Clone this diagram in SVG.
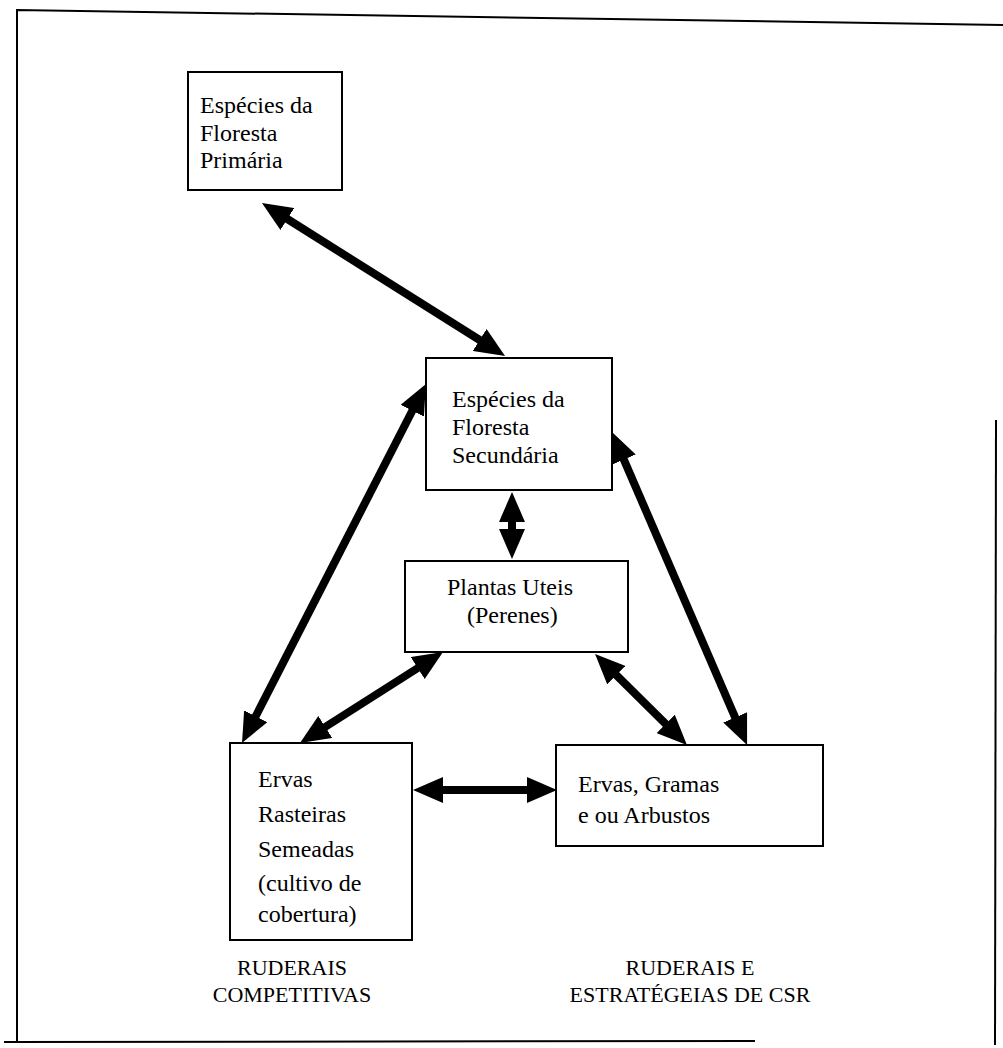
<svg xmlns="http://www.w3.org/2000/svg" width="1003" height="1048" viewBox="0 0 1003 1048">
<style>
.box{fill:#fff;stroke:#000;stroke-width:2}
.t{font-family:"Liberation Serif","Times New Roman",serif;font-size:24px;fill:#000}
.lab{font-family:"Liberation Serif","Times New Roman",serif;font-size:22px;fill:#000;text-anchor:middle}
.arr{stroke:#000;stroke-width:8;fill:none;marker-start:url(#ah);marker-end:url(#ah)}
.frame{fill:none;stroke:#000;stroke-width:2}
</style>
<defs>
<marker id="ah" markerUnits="userSpaceOnUse" markerWidth="30" markerHeight="26" viewBox="0 0 30 26" refX="16" refY="13" orient="auto-start-reverse">
<path d="M0,0 L30,13 L0,26 z" fill="#000"/>
</marker>
</defs>
<g id="frame">
<path class="frame" d="M17,1042 L17,10 L1003,25"/>
<path class="frame" d="M4,1042 L755,1041"/>
<path class="frame" d="M996,420 L995,1045"/>
</g>
<g id="connectors">
<line class="arr" x1="273.8" y1="210.5" x2="493.2" y2="348.5"/>
<line class="arr" x1="512" y1="506" x2="512" y2="545"/>
<line class="arr" x1="419.6" y1="396.5" x2="248.4" y2="730.5"/>
<line class="arr" x1="617.5" y1="444.9" x2="741.5" y2="732.1"/>
<line class="arr" x1="431.2" y1="659.5" x2="311.8" y2="735.5"/>
<line class="arr" x1="605" y1="663.8" x2="677" y2="735.2"/>
<line class="arr" x1="427" y1="790" x2="543" y2="790"/>
</g>
<g id="primaria">
<rect class="box" x="188" y="72" width="154" height="118"/>
<text class="t" x="200" y="113">Espécies da</text>
<text class="t" x="200" y="141">Floresta</text>
<text class="t" x="200" y="168">Primária</text>
</g>
<g id="secundaria">
<rect class="box" x="426" y="358" width="186" height="132"/>
<text class="t" x="452" y="407">Espécies da</text>
<text class="t" x="452" y="435">Floresta</text>
<text class="t" x="452" y="463">Secundária</text>
</g>
<g id="plantas">
<rect class="box" x="405" y="561" width="223" height="91"/>
<text class="t" x="447" y="595">Plantas Uteis</text>
<text class="t" x="467" y="623">(Perenes)</text>
</g>
<g id="rasteiras">
<rect class="box" x="230" y="743" width="182" height="197"/>
<text class="t" x="258" y="787">Ervas</text>
<text class="t" x="258" y="822">Rasteiras</text>
<text class="t" x="258" y="857">Semeadas</text>
<text class="t" x="258" y="891">(cultivo de</text>
<text class="t" x="258" y="922">cobertura)</text>
</g>
<g id="gramas">
<rect class="box" x="556" y="745" width="267" height="101"/>
<text class="t" x="578" y="792">Ervas, Gramas</text>
<text class="t" x="578" y="823">e ou Arbustos</text>
</g>
<g id="labels">
<text class="lab" x="292" y="975">RUDERAIS</text>
<text class="lab" x="292" y="1002">COMPETITIVAS</text>
<text class="lab" x="690" y="975">RUDERAIS E</text>
<text class="lab" x="690" y="1002">ESTRATÉGEIAS DE CSR</text>
</g>
</svg>
